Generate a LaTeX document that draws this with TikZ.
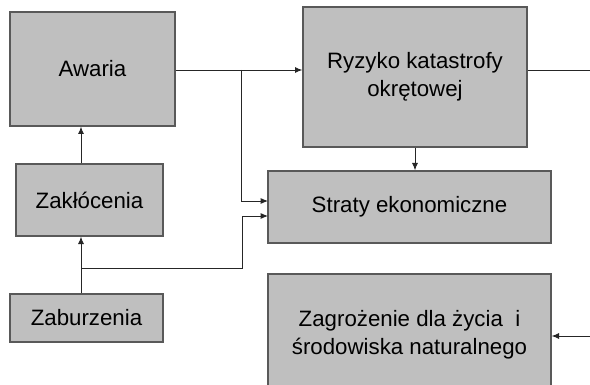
\documentclass[tikz,border=0pt]{standalone}
\usepackage{fontspec}
\setmainfont{Liberation Sans}
\usetikzlibrary{arrows.meta}
\tikzset{
	blok/.style={draw=black!65, line width=1pt, fill=black!25, align=center, inner sep=0pt,
		font=\fontsize{16.7}{21}\selectfont},
	strz/.style={-{Latex[length=5.5pt,width=4.5pt]}, line width=0.7pt, draw=black!85},
	linia/.style={line width=0.7pt, draw=black!85}
}
\begin{document}
\begin{tikzpicture}[x=0.75pt,y=-0.75pt]
		\useasboundingbox (0,0) rectangle (590,385);
		% bloki: nazwa/lewa/gora/prawa/dol/tekst
		\foreach \n/\l/\t/\r/\b/\txt in {awaria/10/12/175/126/Awaria,
				zaklo/16/164/163/236/Zak{ł}ócenia,
				zaburz/10/294/163/342/Zaburzenia,
				ryzyko/303/7/527/147/{Ryzyko katastrofy\\okrętowej},
				straty/268/171/551/243/Straty ekonomiczne,
				zagroz/268/274/551/396/{Zagrożenie dla życia\ \ i\\środowiska naturalnego}}{
			\node[blok, minimum width={(\r-\l)*0.75pt}, minimum height={(\b-\t)*0.75pt}]
				(\n) at ({(\l+\r)/2},{(\t+\b)/2}) {\txt};
		}
		\coordinate (k) at (81,0);
		\coordinate (w1) at (241,70);
		\coordinate (w2) at (242,0);
		\coordinate (j2) at (81,268);
		\coordinate (s1) at (268,201);
		\coordinate (s2) at (268,216);
		\coordinate (wyj) at (590,70);
		\coordinate (wej) at (590,336);
		%
		% polaczenia
		%
		\draw[strz] (awaria.east |- w1) -- (ryzyko.west |- w1);
		\draw[strz] (w1) |- (s1);
		\draw[strz] (ryzyko.south) -- (ryzyko.south |- straty.north);
		\draw[linia] (ryzyko.east |- wyj) -- (wyj);
		\draw[strz] (k |- zaklo.north) -- (k |- awaria.south);
		\draw[strz] (k |- zaburz.north) -- (k |- zaklo.south);
		\draw[strz] (j2) -| (w2 |- s2) -- (s2);
		\draw[strz] (wej) -- (wej -| zagroz.east);
	\end{tikzpicture}
\end{document}
